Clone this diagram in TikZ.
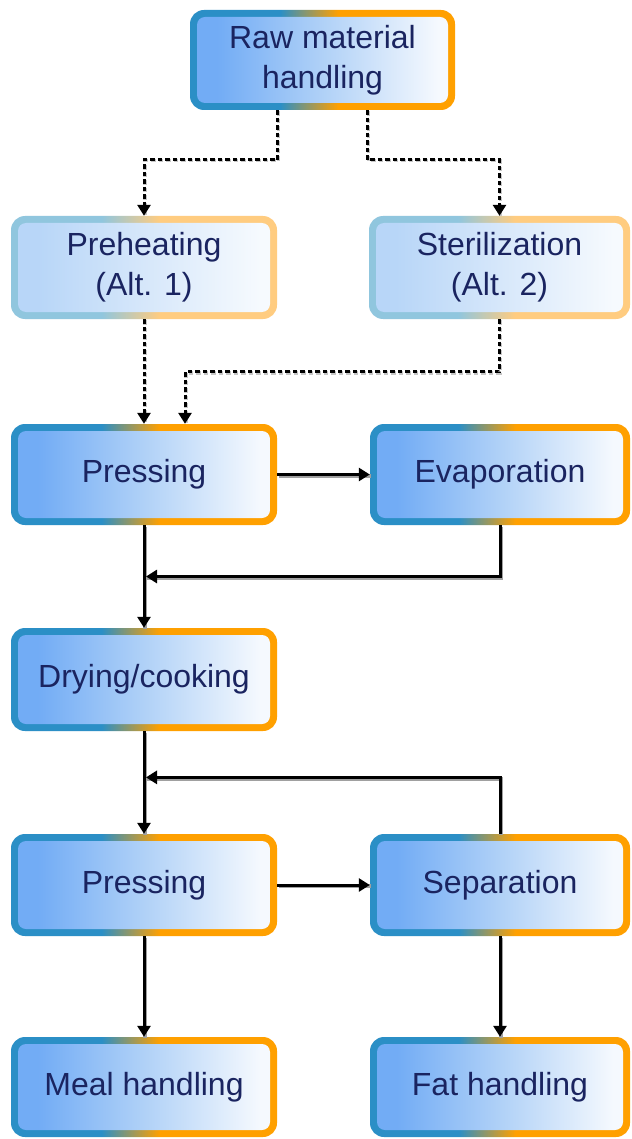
\documentclass[tikz,border=0pt]{standalone}
\usepackage{fontspec}
\setmainfont{Liberation Sans}
\usetikzlibrary{arrows.meta,calc}

\definecolor{bblue}{HTML}{2B8FC6}
\definecolor{borange}{HTML}{FFA000}
\definecolor{fblue}{HTML}{90C6DE}
\definecolor{forange}{HTML}{FFCC80}
\definecolor{fillL}{HTML}{72ACF5}
\definecolor{fillM}{HTML}{B0D1F7}
\definecolor{fillR}{HTML}{F5F9FE}
\definecolor{ffillL}{HTML}{B8D6F8}
\definecolor{ffillM}{HTML}{D6E7FA}
\definecolor{ffillR}{HTML}{F6FAFE}
\definecolor{txt}{HTML}{1A2460}
\definecolor{shadowgray}{HTML}{A0A0A0}

\pgfdeclarehorizontalshading{bordn}{100bp}{color(0bp)=(bblue); color(42bp)=(bblue); color(53bp)=(borange); color(100bp)=(borange)}
\pgfdeclarehorizontalshading{bordf}{100bp}{color(0bp)=(fblue); color(42bp)=(fblue); color(53bp)=(forange); color(100bp)=(forange)}
\pgfdeclarehorizontalshading{filln}{100bp}{color(0bp)=(fillL); color(29bp)=(fillL); color(50bp)=(fillM); color(73bp)=(fillR); color(100bp)=(fillR)}
\pgfdeclarehorizontalshading{fillf}{100bp}{color(0bp)=(ffillL); color(29bp)=(ffillL); color(50bp)=(ffillM); color(73bp)=(ffillR); color(100bp)=(ffillR)}

\tikzset{
  boxtext/.style={inner sep=0pt, align=center, text=txt,
    font=\fontsize{32}{40}\selectfont},
  conn/.style={line width=3pt, line join=miter,
    -{Triangle[length=11pt,width=13pt]},
    preaction={draw=shadowgray, line width=4pt, arrows=-,
      transform canvas={shift={(1.4pt,-1.4pt)}}}},
  dotconn/.style={line width=3pt, line join=miter,
    dash pattern=on 4.5pt off 3pt,
    -{Triangle[length=11pt,width=13pt]},
    preaction={draw=shadowgray!60, line width=3.4pt, arrows=-, dash pattern=on 4.5pt off 3pt,
      transform canvas={shift={(1pt,-1pt)}}}}
}

\newcommand\procbox[7]{%
  \shade[shading=bord#1, rounded corners=14pt] (#3,#4) rectangle (#5,#6);
  \shade[shading=fill#1, rounded corners=8pt] ({#3+7},{#4+7}) rectangle ({#5-7},{#6-7});
  \node[boxtext, minimum width={(#5-#3)*1pt}, minimum height={(#6-#4)*1pt}]
    (#2) at ({(#3+#5)/2},{(#4+#6)/2}) {#7};
}

\begin{document}
\begin{tikzpicture}[x=1pt,y=-1pt]
\fill[white] (0,0) rectangle (631,1139);
\useasboundingbox (0,0) rectangle (631,1139);

\procbox{n}{raw}{190}{10}{455}{110}{Raw material\\handling}
\procbox{f}{pre}{11}{216}{277}{319}{Preheating\\(Alt. 1)}
\procbox{f}{ster}{369}{216}{630}{319}{Sterilization\\(Alt. 2)}
\procbox{n}{pr1}{11}{424}{277}{525}{Pressing}
\procbox{n}{ev}{370}{424}{630}{525}{Evaporation}
\procbox{n}{dry}{11}{628}{277}{731}{Drying/cooking}
\procbox{n}{pr2}{11}{834}{277}{936}{Pressing}
\procbox{n}{sep}{370}{834}{630}{936}{Separation}
\procbox{n}{meal}{11}{1037}{277}{1137}{Meal handling}
\procbox{n}{fat}{370}{1037}{630}{1137}{Fat handling}

% dotted alternatives
\draw[dotconn] ([xshift=-45pt]raw.south) |- ([yshift=56pt]pre.north) -- (pre.north);
\draw[dotconn] ([xshift=45pt]raw.south) |- ([yshift=56pt]ster.north) -- (ster.north);
\draw[dotconn] (pre.south) -- (pr1.north);
\draw[dotconn] (ster.south) |- ([xshift=41pt,yshift=52pt]pr1.north) -- ([xshift=41pt]pr1.north);

% solid flow
\draw[conn] (pr1.east) -- (ev.west);
\draw[conn] (pr1.south) -- (dry.north);
\draw[conn] (ev.south) |- ($(pr1.south)!0.5!(dry.north)+(2,0)$);
\draw[conn] (dry.south) -- (pr2.north);
\draw[conn] (sep.north) |- ($(dry.south)!0.45!(pr2.north)+(2,0)$);
\draw[conn] (pr2.east) -- (sep.west);
\draw[conn] (pr2.south) -- (meal.north);
\draw[conn] (sep.south) -- (fat.north);
\end{tikzpicture}
\end{document}
